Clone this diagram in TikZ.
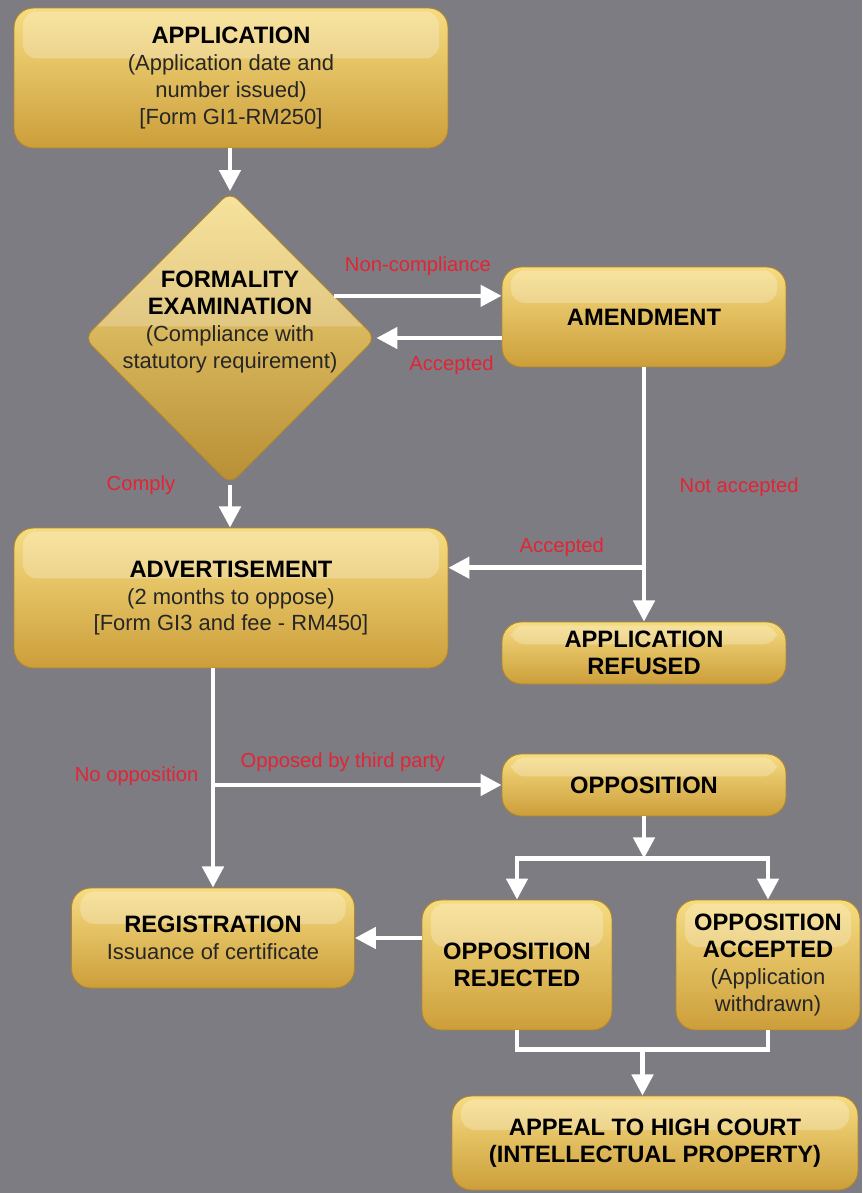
\documentclass[tikz,border=0pt]{standalone}
\usepackage{fontspec}
\setmainfont{Liberation Sans}
\usetikzlibrary{positioning,calc,arrows.meta,shapes.geometric}
\definecolor{bggray}{RGB}{125,124,130}
\definecolor{goldtop}{RGB}{246,220,130}
\definecolor{goldbot}{RGB}{204,158,58}
\definecolor{goldedge}{RGB}{176,134,44}
\definecolor{labelred}{RGB}{226,36,52}
\newcommand{\ttl}[1]{{\fontsize{13.5}{15.3}\selectfont\bfseries\color{black} #1}}

\begin{document}
\begin{tikzpicture}[x=0.02cm, y=-0.02cm,
	box/.style ={rectangle, rounded corners=11pt, top color=goldtop, bottom color=goldbot,
		draw=goldedge, line width=0.5pt, align=center, inner sep=2pt, text=black!85,
		font=\fontsize{12.5}{15.3}\selectfont,
		path picture={\fill[white, opacity=0.25, rounded corners=8pt]
			([xshift=5pt, yshift=-2pt]path picture bounding box.north west) rectangle
			($(path picture bounding box.north east)!0.36!(path picture bounding box.south east)+(-5pt,0)$);}},
	gem/.style ={diamond, rounded corners=6pt, top color=goldtop, bottom color=goldbot!90!black,
		draw=goldedge, line width=0.5pt, inner sep=0pt,
		path picture={\fill[white, opacity=0.22]
			(path picture bounding box.north west) rectangle
			($(path picture bounding box.north east)!0.46!(path picture bounding box.south east)$);}},
	flow/.style ={draw=white, line width=2.6pt, -{Triangle[width=12pt, length=12pt]}},
	line/.style ={draw=white, line width=2.6pt},
	lbl/.style ={text=labelred, font=\fontsize{11.5}{13}\selectfont, inner sep=1pt}]
	\fill[bggray] (0,0) rectangle (862,1193);
	\useasboundingbox (0,0) rectangle (862,1193);

	% boxes
	\node[box, minimum width=8.68cm, minimum height=2.8cm] (app) at (231,78)
		{\ttl{APPLICATION}\\(Application date and\\number issued)\\{[Form GI1-RM250]}};
	\node[gem, minimum width=5.84cm, minimum height=5.86cm] (formal) at (230,338) {};
	\node[align=center, font=\fontsize{12.5}{15.3}\selectfont, text=black!85] (formaltxt) at (230,322)
		{\ttl{FORMALITY}\\\ttl{EXAMINATION}\\(Compliance with\\statutory requirement)};
	\node[box, minimum width=5.68cm, minimum height=2cm] (amend) at (644,317) {\ttl{AMENDMENT}};
	\node[box, minimum width=8.68cm, minimum height=2.8cm] (advert) at (231,598)
		{\ttl{ADVERTISEMENT}\\(2 months to oppose)\\{[Form GI3 and fee - RM450]}};
	\node[box, minimum width=5.68cm, minimum height=1.24cm] (refused) at (644,653)
		{\ttl{APPLICATION}\\\ttl{REFUSED}};
	\node[box, minimum width=5.68cm, minimum height=1.24cm] (oppos) at (644,785) {\ttl{OPPOSITION}};
	\node[box, minimum width=5.66cm, minimum height=2cm] (regist) at (213,938)
		{\ttl{REGISTRATION}\\Issuance of certificate};
	\node[box, minimum width=3.8cm, minimum height=2.6cm] (rejected) at (517,965)
		{\ttl{OPPOSITION}\\\ttl{REJECTED}};
	\node[box, minimum width=3.68cm, minimum height=2.6cm] (accepted) at (768,965)
		{\ttl{OPPOSITION}\\\ttl{ACCEPTED}\\(Application\\withdrawn)};
	\node[box, minimum width=8.12cm, minimum height=1.88cm] (appeal) at (655,1143)
		{\ttl{APPEAL TO HIGH COURT}\\\ttl{(INTELLECTUAL PROPERTY)}};

	% connectors
	\draw[flow] (formal.north |- app.south) -- (formal.north);
	\draw[flow] (formal.22) -- (formal.22 -| amend.west) node[lbl, midway, above=9pt] {Non-compliance};
	\draw[flow] (amend.west |- formal.east) -- (formal.east) node[lbl, pos=0.4, below=8pt] {Accepted};
	\draw[flow] (formal.south) -- (formal.south |- advert.north);
	\node[lbl, left=30pt of formal.south] (complylbl) {Comply};
	\draw[flow] (amend.south) -- (refused.north) node[lbl, pos=0.47, right=18pt] {Not accepted};
	\coordinate (acc) at ($(amend.south)!0.788!(refused.north)$);
	\draw[flow] (acc) -- (acc -| advert.east) node[lbl, pos=0.42, above=4pt] {Accepted};
	\draw[flow] (regist.north |- advert.south) -- (regist.north) node[lbl, pos=0.49, left=6pt] {No opposition};
	\draw[flow] (regist.north |- oppos.west) -- (oppos.west) node[lbl, pos=0.45, above=5pt] {Opposed by third party};
	\coordinate (split) at ($(oppos.south)+(0,42)$);
	\draw[flow] (oppos.south) -- (split);
	\draw[flow] (split) -| (rejected.north);
	\draw[flow] (split) -| (accepted.north);
	\draw[flow] (rejected.west |- regist.east) -- (regist.east);
	\coordinate (merge) at ($(rejected.south)!0.5!(accepted.south)+(0,19)$);
	\draw[line] (rejected.south) |- (merge) -| (accepted.south);
	\draw[flow] (merge) -- (merge |- appeal.north);
\end{tikzpicture}
\end{document}
